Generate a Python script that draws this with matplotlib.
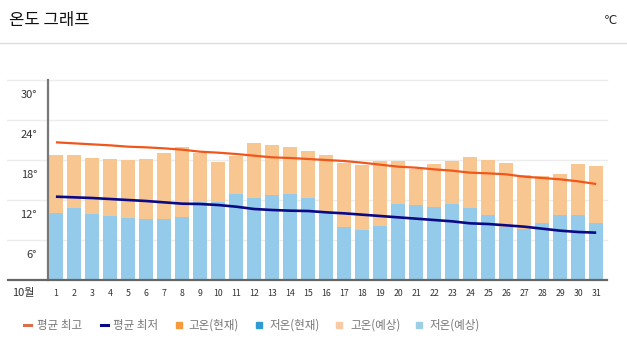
import matplotlib
matplotlib.use("Agg")
import matplotlib.pyplot as plt
import matplotlib.transforms as mtransforms
from matplotlib.lines import Line2D
from matplotlib.patches import Rectangle

plt.rcParams['font.family'] = ['Noto Sans CJK KR', 'DejaVu Sans']

days = list(range(1, 32))
day_labels = [str(d) for d in days]
high_bar = [18.75, 18.75, 18.3, 18.15, 18.0, 18.15, 19.05, 19.9, 19.0, 17.75,
            18.6, 20.6, 20.25, 19.95, 19.35, 18.75, 17.55, 17.25, 17.85, 17.85,
            16.65, 17.4, 17.85, 18.45, 18.0, 17.55, 15.75, 15.6, 15.9, 17.4, 17.1]
low_bar = [10.0, 10.85, 9.9, 9.6, 9.3, 9.15, 9.15, 9.45, 11.75, 11.65,
           12.9, 12.3, 12.75, 12.9, 12.3, 9.9, 8.0, 7.5, 8.1, 11.4,
           11.25, 10.95, 11.4, 10.8, 9.75, 8.0, 7.65, 8.55, 9.75, 9.75, 8.5]
avg_high = [20.65, 20.5, 20.35, 20.2, 20.0, 19.9, 19.75, 19.55, 19.25, 19.1,
            18.9, 18.65, 18.4, 18.3, 18.15, 18.0, 17.85, 17.6, 17.3, 17.0,
            16.85, 16.6, 16.4, 16.1, 16.0, 15.85, 15.5, 15.3, 15.1, 14.8, 14.4]
avg_low = [12.5, 12.4, 12.3, 12.15, 12.0, 11.85, 11.65, 11.45, 11.4, 11.25,
           11.0, 10.65, 10.5, 10.4, 10.35, 10.15, 10.0, 9.8, 9.6, 9.4,
           9.2, 9.0, 8.8, 8.5, 8.4, 8.2, 8.0, 7.7, 7.4, 7.2, 7.1]
y_ticks = [0, 6, 12, 18, 24, 30]
y_tick_labels = ['', '6°', '12°', '18°', '24°', '30°']
legend_labels = ['평균 최고', '평균 최저', '고온(현재)', '저온(현재)', '고온(예상)', '저온(예상)']

W, H = 627, 352
fig = plt.figure(figsize=(W / 100, H / 100), dpi=100)
ax = fig.add_axes([48 / W, (H - 280) / H, (607 - 48) / W, 200 / H])

C_HIGH_BAR = '#f8c690'
C_LOW_BAR = '#94cbea'
C_AVG_HIGH = '#f0571a'
C_AVG_LOW = '#0b0a86'

ax.bar(days, high_bar, width=0.78, color=C_HIGH_BAR, zorder=2)
ax.bar(days, low_bar, width=0.78, color=C_LOW_BAR, zorder=3)
ax.plot(days, avg_high, color=C_AVG_HIGH, lw=1.6, zorder=4, solid_capstyle='butt')
ax.plot(days, avg_low, color=C_AVG_LOW, lw=1.9, zorder=4, solid_capstyle='butt')

ax.set_xlim(0.56, 31.6)
ax.set_ylim(0, 30)
ax.set_xticks([])
ax.set_yticks([])
for s in ['top', 'right', 'bottom']:
    ax.spines[s].set_visible(False)
ax.spines['left'].set_color('#777777')
ax.spines['left'].set_linewidth(1.6)
ax.patch.set_alpha(0)

# gridlines extending to the left of the axis
tr = mtransforms.blended_transform_factory(fig.transFigure, ax.transData)
for v in y_ticks[1:]:
    ax.add_line(Line2D([7 / W, 607 / W], [v, v], transform=tr, color='#ececec',
                       lw=1.0, zorder=0, clip_on=False))
ax.add_line(Line2D([8 / W, 607 / W], [0, 0], transform=tr, color='#666666',
                   lw=1.6, zorder=5, clip_on=False))

# y labels (drawn below their gridlines)
off = mtransforms.ScaledTranslation(0, -15 / 100, fig.dpi_scale_trans)
for v, lab in zip(y_ticks, y_tick_labels):
    if lab:
        ax.text(37 / W, v, lab, transform=tr + off, ha='right', va='center',
                fontsize=8, color='#333333')

# x labels
trx = mtransforms.blended_transform_factory(ax.transData, fig.transFigure)
for d, lab in zip(days, day_labels):
    ax.text(d, (H - 293) / H, lab, transform=trx, ha='center', va='center',
            fontsize=6.3, color='#333333')
fig.text(23 / W, (H - 293) / H, '10월', ha='center', va='center', fontsize=8, color='#333333')

# header
fig.text(9 / W, (H - 20) / H, '온도 그래프', ha='left', va='center', fontsize=12,
         color='#111111')
fig.text(617 / W, (H - 20) / H, '℃', ha='right', va='center', fontsize=8.5, color='#222222',
         family=['DejaVu Sans'])
fig.add_artist(Line2D([0, 1], [(H - 43) / H, (H - 43) / H], color='#dddddd', lw=1.0))

# legend
ly = (H - 325) / H
leg_items = [
    ('line', '#d9704a', 24, 37),
    ('line', C_AVG_LOW, 101, 113),
    ('sq', '#f79a3e', 176, 188),
    ('sq', '#2f9bd5', 256, 270),
    ('sq', '#f8cba6', 336, 350),
    ('sq', '#9ecde6', 416, 430),
]
for (kind, col, x0, xt), lab in zip(leg_items, legend_labels):
    if kind == 'line':
        fig.add_artist(Line2D([x0 / W, (x0 + 7) / W], [ly, ly], color=col, lw=2.2))
    else:
        fig.add_artist(Rectangle((x0 / W, ly - 3 / H), 6 / W, 6 / H, color=col,
                                 transform=fig.transFigure))
    fig.text(xt / W, ly, lab, ha='left', va='center', fontsize=8.3, color='#777777')

fig.savefig('out.png', dpi=100)
